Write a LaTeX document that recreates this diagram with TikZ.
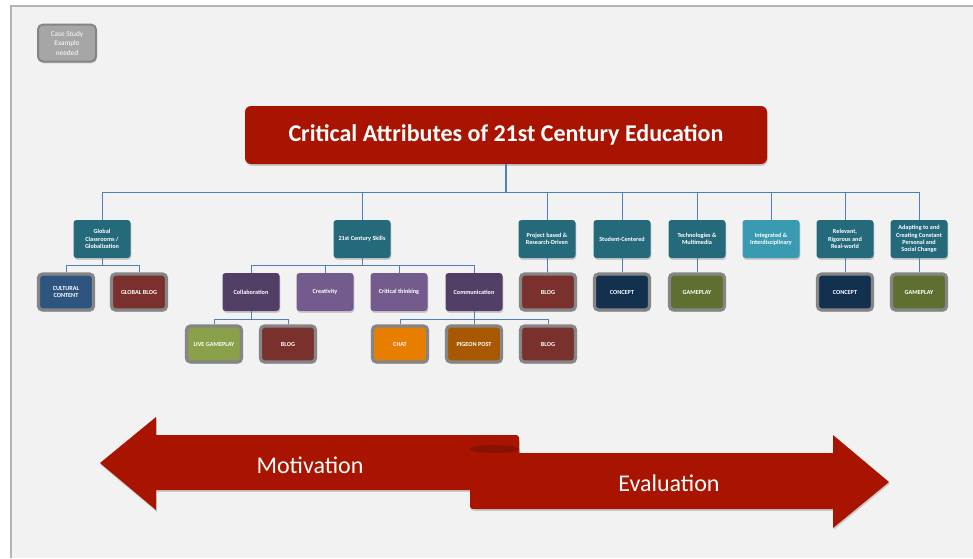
\documentclass[tikz,border=0pt]{standalone}
\usepackage{fontspec}
\setmainfont{Carlito}
\usetikzlibrary{shadows}

\definecolor{bggray}{HTML}{F2F2F2}
\definecolor{framegray}{HTML}{B4B4B4}
\definecolor{titlered}{HTML}{A81400}
\definecolor{folddark}{HTML}{8A1000}
\definecolor{linkblue}{HTML}{4F7FB8}
\definecolor{attrteal}{HTML}{256A7B}
\definecolor{attrlight}{HTML}{3A9AB1}
\definecolor{purpledark}{HTML}{523F66}
\definecolor{purplelight}{HTML}{745B8D}
\definecolor{toolborder}{HTML}{858585}
\definecolor{cultblue}{HTML}{2D5580}
\definecolor{blogred}{HTML}{7A302C}
\definecolor{conceptnavy}{HTML}{13304F}
\definecolor{gameolive}{HTML}{5F6F30}
\definecolor{livegreen}{HTML}{8AA04A}
\definecolor{chatorange}{HTML}{E77E00}
\definecolor{pigeonbrown}{HTML}{A85800}
\definecolor{casegray}{HTML}{A6A6A6}

\tikzset{
  softshadow/.style={drop shadow={opacity=0.35, shadow xshift=0.8pt, shadow yshift=-1.8pt}},
  attr/.style={rounded corners=3pt, fill=attrteal, text=white, align=center,
    font=\bfseries\fontsize{6.2}{7.2}\selectfont, inner sep=1pt,
    minimum width=57pt, minimum height=38pt, softshadow},
  skill/.style={attr, fill=purpledark},
  tool/.style={attr, draw=toolborder, line width=3.2pt, minimum width=55pt,
    minimum height=36pt, rounded corners=4pt},
  link/.style={draw=linkblue, line width=0.8pt},
}

\begin{document}
\begin{tikzpicture}[x=1pt, y=-1pt]
\useasboundingbox (0,0) rectangle (973,558);

% slide background
\fill[white] (0,0) rectangle (973,558);
\fill[bggray] (11,6) rectangle (973,558);
\draw[framegray, line width=1.2pt] (11,558) -- (11,6) -- (973,6);

\node[rounded corners=5pt, fill=casegray, draw=toolborder, line width=2pt, text=white,
  align=center, font=\fontsize{7.3}{9.5}\selectfont, minimum width=58pt, minimum height=37pt,
  softshadow] (casestudy) at (67,43) {Case Study\\Example\\needed};

\node[rounded corners=6pt, fill=titlered, text=white, font=\bfseries\fontsize{24}{28}\selectfont,
  minimum width=522pt, minimum height=58pt, softshadow] (title) at (506,135)
  {Critical Attributes of 21st Century Education};

% attributes
\node[attr] (glob) at (102,239) {Global\\Classrooms /\\Globalization};
\node[attr] (skills) at (362,239) {21st Century Skills};
\node[attr] (proj) at (547,239) {Project based \&\\Research-Driven};
\node[attr] (student) at (622,239) {Student-Centered};
\node[attr] (tech) at (697,239) {Technologies \&\\Multimedia};
\node[attr, fill=attrlight] (integ) at (771,239) {Integrated \&\\Interdisciplinary};
\node[attr] (relev) at (845,239) {Relevant,\\Rigorous and\\Real-world};
\node[attr] (adapt) at (919,239) {Adapting to and\\Creating Constant\\Personal and\\Social Change};

% skills and tools
\node[tool, fill=cultblue] (cult) at (66,292) {CULTURAL\\CONTENT};
\node[tool, fill=blogred] (gblog) at (139,292) {GLOBAL BLOG};
\node[skill] (collab) at (251,292) {Collaboration};
\node[skill, fill=purplelight] (creat) at (325,292) {Creativity};
\node[skill, fill=purplelight] (crit) at (399,292) {Critical thinking};
\node[skill] (comm) at (474,292) {Communication};
\node[tool, fill=blogred] (pblog) at (548,292) {BLOG};
\node[tool, fill=conceptnavy] (sconcept) at (622,292) {CONCEPT};
\node[tool, fill=gameolive] (tgame) at (697,292) {GAMEPLAY};
\node[tool, fill=conceptnavy] (rconcept) at (845,292) {CONCEPT};
\node[tool, fill=gameolive] (agame) at (919,292) {GAMEPLAY};

\node[tool, fill=livegreen] (live) at (214,344) {LIVE GAMEPLAY};
\node[tool, fill=blogred] (cblog) at (288,344) {BLOG};
\node[tool, fill=chatorange] (chat) at (400,344) {CHAT};
\node[tool, fill=pigeonbrown] (pigeon) at (474,344) {PIGEON POST};
\node[tool, fill=blogred] (mblog) at (548,344) {BLOG};

% connectors
\coordinate (bus) at (506,192);
\draw[link, line width=1.1pt] (title) -- (bus);
\foreach \n in {glob,skills,proj,student,tech,integ,relev,adapt}
  \draw[link] (\n.north) |- (bus);

\coordinate (globbus) at (102,265);
\draw[link] (glob) -- (globbus);
\foreach \n in {cult,gblog} \draw[link] (\n.north) |- (globbus);

\coordinate (skillbus) at (362,265);
\draw[link] (skills) -- (skillbus);
\foreach \n in {collab,creat,crit,comm} \draw[link] (\n.north) |- (skillbus);

\coordinate (collabbus) at (251,319);
\draw[link] (collab) -- (collabbus);
\foreach \n in {live,cblog} \draw[link] (\n.north) |- (collabbus);

\coordinate (commbus) at (474,319);
\draw[link] (comm) -- (commbus);
\foreach \n in {chat,pigeon,mblog} \draw[link] (\n.north) |- (commbus);

\draw[link] (proj) -- (pblog);
\draw[link] (student) -- (sconcept);
\draw[link] (tech) -- (tgame);
\draw[link] (relev) -- (rconcept);
\draw[link] (adapt) -- (agame);

% ribbon arrows
\fill[titlered, softshadow] (100,463) -- (156,417) -- (156,435) -- (512,435)
  .. controls (519,435) .. (519,441) -- (519,455) -- (470,455) -- (470,490)
  -- (156,490) -- (156,510) -- cycle;
\fill[titlered, softshadow] (470,449) -- (470,503) .. controls (470,509) .. (476,509)
  -- (833,509) -- (833,528) -- (889,482) -- (833,435) -- (833,453) -- (519,453)
  -- (519,449) -- cycle;
\fill[folddark] (494,449) ellipse [x radius=24.5pt, y radius=4pt];

\node[text=white, font=\fontsize{24}{28}\selectfont] (motiv) at (310,465) {Motivation};
\node[text=white, font=\fontsize{24}{28}\selectfont] (evalu) at (669,483) {Evaluation};

\end{tikzpicture}
\end{document}
